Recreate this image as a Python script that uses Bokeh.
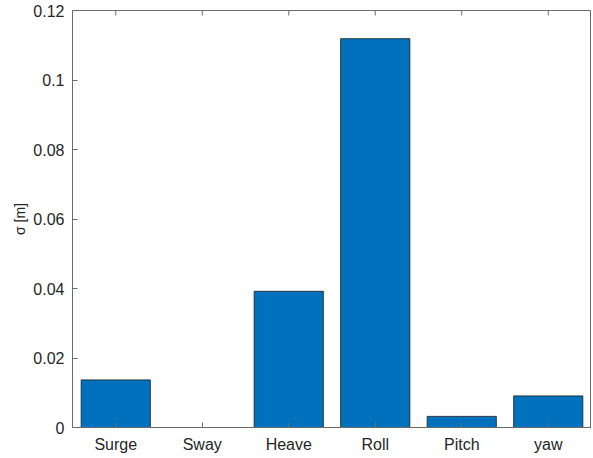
from bokeh.plotting import figure
from bokeh.models import ColumnDataSource, FixedTicker, Range1d
from bokeh.embed import file_html
from bokeh.resources import INLINE

categories = ["Surge", "Sway", "Heave", "Roll", "Pitch", "yaw"]
sigma = [0.0137, 0.0, 0.0392, 0.1119, 0.0032, 0.0091]
y_ticks = [0, 0.02, 0.04, 0.06, 0.08, 0.1, 0.12]
y_tick_labels = ["0", "0.02", "0.04", "0.06", "0.08", "0.1", "0.12"]
y_max = 0.12

xpos = list(range(1, len(categories) + 1))
src = ColumnDataSource(dict(x=xpos, top=sigma, name=categories))

FONT = "Liberation Sans"
AX = "#6b6b6b"
TXT = "#262626"

p = figure(width=591, height=456, output_backend="svg", toolbar_location=None,
           x_range=Range1d(0.5, 6.5), y_range=Range1d(0, y_max),
           min_border_left=72, min_border_right=0, min_border_top=10, min_border_bottom=29)
p.background_fill_color = "white"
p.border_fill_color = "white"
p.outline_line_color = AX
p.outline_line_width = 1
p.xgrid.visible = False
p.ygrid.visible = False

p.vbar(x="x", top="top", bottom=0, width=0.8, source=src,
       fill_color="#0072BD", line_color="#1a1a1a", line_width=0.8)

# inward tick marks on the top edge of the box (MATLAB "box on")
tick_frac = 5 / 416
p.segment(x0=xpos, x1=xpos, y0=[y_max] * len(xpos),
          y1=[y_max * (1 - tick_frac)] * len(xpos), line_color=AX, line_width=1)

xa = p.xaxis[0]
xa.ticker = FixedTicker(ticks=xpos)
xa.major_label_overrides = {i: c for i, c in zip(xpos, categories)}
ya = p.yaxis[0]
ya.ticker = FixedTicker(ticks=y_ticks)
ya.major_label_overrides = {t: l for t, l in zip(y_ticks, y_tick_labels)}
ya.axis_label = "σ [m]"
ya.axis_label_text_font = FONT
ya.axis_label_text_font_style = "normal"
ya.axis_label_text_font_size = "14px"
ya.axis_label_text_color = TXT
ya.axis_label_standoff = 2

for ax in (xa, ya):
    ax.axis_line_color = AX
    ax.major_tick_line_color = AX
    ax.major_tick_in = 5
    ax.major_tick_out = 0
    ax.minor_tick_line_color = None
    ax.major_label_text_font = FONT
    ax.major_label_text_font_size = "16px"
    ax.major_label_text_color = TXT
    ax.major_label_standoff = 8

open("out.html", "w").write(file_html(p, INLINE))
